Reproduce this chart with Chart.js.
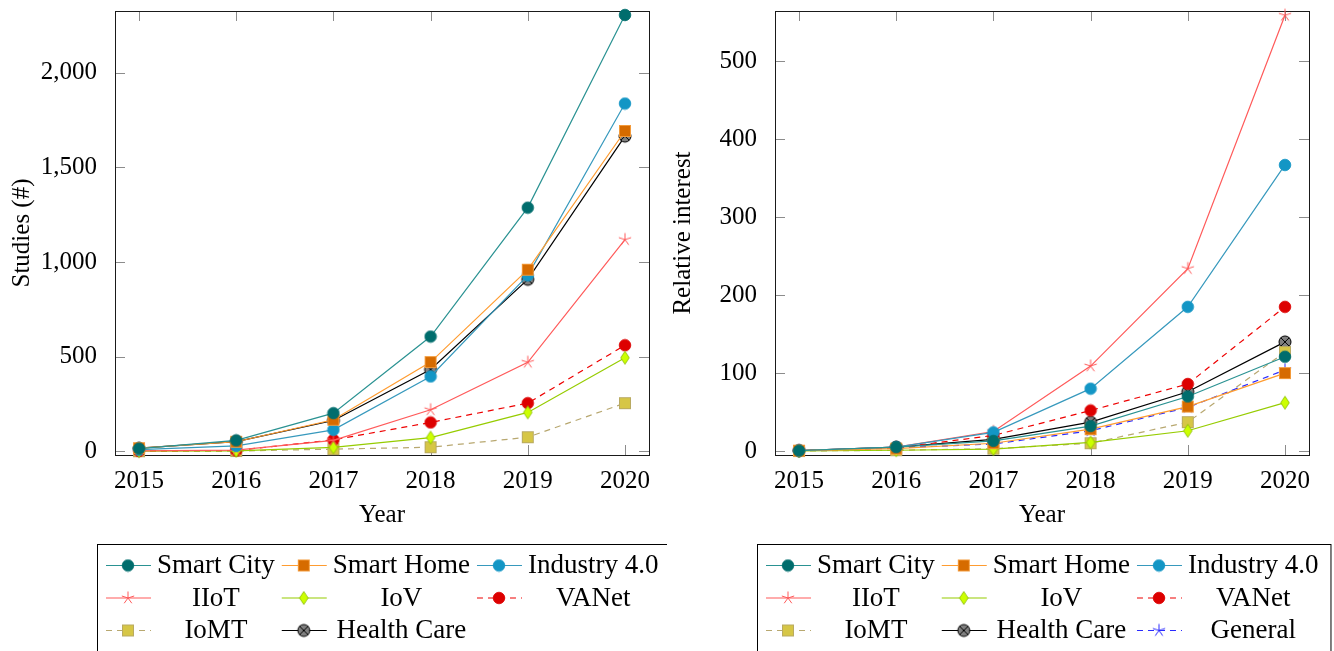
<!DOCTYPE html>
<html>
<head>
<meta charset="utf-8">
<script src="https://cdn.jsdelivr.net/npm/chart.js@4/dist/chart.umd.min.js"></script>
<style>
  body { margin: 0; background: #fff; width: 1334px; height: 651px; overflow: hidden; position: relative; }
  canvas { position: absolute; top: 0; }
  #izq { left: 0; }
  #der { left: 667px; }
</style>
</head>
<body>
<canvas id="izq" width="667" height="651"></canvas>
<canvas id="der" width="667" height="651"></canvas>
<script>
// data
const years = [2015, 2016, 2017, 2018, 2019, 2020];

// left: number of studies
const studiesSmartCity  = [14, 57, 201, 606, 1287, 2305];
const studiesSmartHome  = [16, 50, 166, 471, 959, 1692];
const studiesIndustry40 = [8, 28, 113, 395, 929, 1837];
const studiesIIoT       = [2, 6, 57, 219, 470, 1118];
const studiesIoV        = [0, 2, 20, 72, 205, 494];
const studiesVANet      = [1, 4, 60, 152, 254, 560];
const studiesIoMT       = [0, 1, 11, 21, 74, 254];
const studiesHealthCare = [16, 51, 162, 432, 908, 1665];
const studiesTicks = [0, 500, 1000, 1500, 2000];

// right: relative interest
const interestSmartCity  = [0.5, 5, 13, 32, 70, 121];
const interestSmartHome  = [0.5, 3, 10, 28, 57, 100];
const interestIndustry40 = [0.5, 5, 24, 80, 185, 367];
const interestIIoT       = [0.5, 5, 25, 109, 234, 559];
const interestIoV        = [0, 1, 2.5, 11, 26, 62];
const interestVANet      = [0.5, 4, 20, 52, 86, 185];
const interestIoMT       = [0, 1, 3, 10, 37, 127];
const interestHealthCare = [0.5, 5, 15, 37, 76, 140];
const interestGeneral    = [0.5, 4, 9, 26, 56, 104];
const interestTicks = [0, 100, 200, 300, 400, 500];

const FONT = "'Liberation Serif', 'Times New Roman', serif";
Chart.defaults.font.family = FONT;
Chart.defaults.font.size = 25;
Chart.defaults.color = '#000';

// markers as little canvases
function marca(size, dibujar) {
    const c = document.createElement('canvas');
    c.width = size; c.height = size;
    const g = c.getContext('2d');
    g.translate(size / 2, size / 2);
    dibujar(g);
    return c;
}
function circulo(fill, stroke) {
    return marca(14, g => {
        g.beginPath(); g.arc(0, 0, 5.8, 0, Math.PI * 2);
        g.fillStyle = fill; g.fill();
        g.lineWidth = 0.8; g.strokeStyle = stroke; g.stroke();
    });
}
function cuadrado(fill, stroke) {
    return marca(14, g => {
        g.fillStyle = fill; g.fillRect(-5.5, -5.5, 11, 11);
        g.lineWidth = 1; g.strokeStyle = stroke; g.strokeRect(-5.5, -5.5, 11, 11);
    });
}
function asterisco(color) {
    return marca(16, g => {
        g.strokeStyle = color; g.lineWidth = 1;
        g.beginPath();
        for (let k = 0; k < 5; k++) {
            const a = -Math.PI / 2 + k * 2 * Math.PI / 5;
            g.moveTo(0, 0); g.lineTo(6.5 * Math.cos(a), 6.5 * Math.sin(a));
        }
        g.stroke();
    });
}
function rombo(fill, stroke) {
    return marca(16, g => {
        g.beginPath();
        g.moveTo(0, -6.5); g.lineTo(4.3, 0); g.lineTo(0, 6.5); g.lineTo(-4.3, 0); g.closePath();
        g.fillStyle = fill; g.fill();
        g.lineWidth = 0.8; g.strokeStyle = stroke; g.stroke();
    });
}
function otimes() {
    return marca(16, g => {
        g.beginPath(); g.arc(0, 0, 6, 0, Math.PI * 2);
        g.fillStyle = '#808080'; g.fill();
        g.lineWidth = 1; g.strokeStyle = '#000'; g.stroke();
        const d = 6 * Math.SQRT1_2;
        g.beginPath();
        g.moveTo(-d, -d); g.lineTo(d, d); g.moveTo(d, -d); g.lineTo(-d, d);
        g.stroke();
    });
}

const estilos = {
    'Smart City':   { color: '#2a9292', punto: circulo('#006d6d', '#006d6d') },
    'Smart Home':   { color: '#ff9c30', punto: cuadrado('#d66b00', '#f39a3a') },
    'Industry 4.0': { color: '#3799bd', punto: circulo('#1396c5', '#1396c5') },
    'IIoT':         { color: '#ff5a5a', punto: asterisco('#ff5a5a') },
    'IoV':          { color: '#96cc00', punto: rombo('#ccff00', '#88bb00') },
    'VANet':        { color: '#ee0000', punto: circulo('#dd0000', '#dd0000'), dash: [6, 5] },
    'IoMT':         { color: '#b8a870', punto: cuadrado('#d6c646', '#b9aa62'), dash: [6, 5] },
    'Health Care':  { color: '#000000', punto: otimes() },
    'General':      { color: '#2a2aff', punto: asterisco('#2a2aff'), dash: [6, 5] }
};

function serie(nombre, valores) {
    const e = estilos[nombre];
    return {
        label: nombre,
        data: years.map((y, i) => ({ x: y, y: valores[i] })),
        borderColor: e.color,
        backgroundColor: e.color,
        borderWidth: 1.2,
        borderDash: e.dash || [],
        pointStyle: e.punto,
        pointRadius: 6,
        tension: 0,
        clip: false
    };
}

// inner tick marks on all four sides + frame
const marco = {
    id: 'marco',
    beforeDatasetsDraw(chart) {
        const ctx = chart.ctx, a = chart.chartArea;
        const sx = chart.scales.x, sy = chart.scales.y;
        ctx.save();
        ctx.strokeStyle = '#8c8c8c'; ctx.lineWidth = 1;
        ctx.beginPath();
        sx.ticks.forEach(t => {
            const px = Math.round(sx.getPixelForValue(t.value)) + 0.5;
            ctx.moveTo(px, a.bottom); ctx.lineTo(px, a.bottom - 10);
            ctx.moveTo(px, a.top); ctx.lineTo(px, a.top + 10);
        });
        sy.ticks.forEach(t => {
            const py = Math.round(sy.getPixelForValue(t.value)) + 0.5;
            ctx.moveTo(a.left, py); ctx.lineTo(a.left + 10, py);
            ctx.moveTo(a.right, py); ctx.lineTo(a.right - 10, py);
        });
        ctx.stroke();
        ctx.strokeStyle = '#1a1a1a';
        ctx.strokeRect(Math.round(a.left) + 0.5, Math.round(a.top) + 0.5,
            Math.round(a.right - a.left), Math.round(a.bottom - a.top));
        ctx.restore();
    }
};

// boxed legend, 3 columns, text centred in its column
const leyenda = {
    id: 'leyenda',
    afterDraw(chart) {
        const ctx = chart.ctx, a = chart.chartArea;
        const sets = chart.data.datasets;
        const font = '27px ' + FONT;
        ctx.save();
        ctx.font = font;
        const anchos = [0, 0, 0];
        sets.forEach((ds, i) => {
            anchos[i % 3] = Math.max(anchos[i % 3], ctx.measureText(ds.label).width);
        });
        const bx = a.left - 18, by = 544;
        const cols = [];
        let x = bx + 9;
        for (let c = 0; c < 3; c++) {
            cols.push(x);
            x += 51 + anchos[c] + 7;
        }
        ctx.strokeStyle = '#000'; ctx.lineWidth = 1;
        ctx.strokeRect(bx + 0.5, by + 0.5, x - bx + 5, 200);
        sets.forEach((ds, i) => {
            const c = i % 3, f = Math.floor(i / 3);
            const lx = cols[c], ly = by + 21 + f * 32.5;
            ctx.beginPath();
            ctx.setLineDash(ds.borderDash);
            ctx.strokeStyle = ds.borderColor; ctx.lineWidth = 1.2;
            ctx.moveTo(lx, ly + 0.5); ctx.lineTo(lx + 45, ly + 0.5);
            ctx.stroke();
            ctx.setLineDash([]);
            Chart.helpers.drawPoint(ctx, { pointStyle: ds.pointStyle, radius: 6, rotation: 0, borderWidth: 1 }, lx + 22, ly + 0.5);
            ctx.fillStyle = '#000';
            ctx.font = font;
            ctx.textAlign = 'center';
            ctx.textBaseline = 'middle';
            ctx.fillText(ds.label, lx + 51 + anchos[c] / 2, ly + 1);
        });
        ctx.restore();
    }
};

function crearGrafica(id, datasets, tituloY, ticksY, minY, maxY, anchoY, padDer, padTitulo) {
    return new Chart(document.getElementById(id), {
        type: 'line',
        data: { datasets: datasets },
        options: {
            responsive: false,
            animation: false,
            layout: { padding: { top: 11, right: padDer, bottom: 116, left: 0 } },
            plugins: { legend: { display: false }, tooltip: { enabled: false } },
            scales: {
                x: {
                    type: 'linear',
                    min: 2014.753,
                    max: 2020.247,
                    grid: { display: false },
                    border: { display: false },
                    afterBuildTicks: s => { s.ticks = years.map(v => ({ value: v })); },
                    afterFit: s => { s.height = 80; s.paddingLeft = 0; s.paddingRight = 0; },
                    ticks: { padding: 3, callback: v => String(v) },
                    title: { display: true, text: 'Year', font: { size: 25 }, padding: { top: 0, bottom: 5 } }
                },
                y: {
                    min: minY,
                    max: maxY,
                    grid: { display: false },
                    border: { display: false },
                    afterBuildTicks: s => { s.ticks = ticksY.map(v => ({ value: v })); },
                    afterFit: s => { s.width = anchoY; s.paddingTop = 0; s.paddingBottom = 0; },
                    ticks: { padding: 10, callback: v => v.toLocaleString('en-US') },
                    title: { display: true, text: tituloY, font: { size: 25 }, padding: { top: padTitulo, bottom: 0 } }
                }
            }
        },
        plugins: [marco, leyenda]
    });
}

crearGrafica('izq', [
    serie('Smart City', studiesSmartCity),
    serie('Smart Home', studiesSmartHome),
    serie('Industry 4.0', studiesIndustry40),
    serie('IIoT', studiesIIoT),
    serie('IoV', studiesIoV),
    serie('VANet', studiesVANet),
    serie('IoMT', studiesIoMT),
    serie('Health Care', studiesHealthCare)
], 'Studies (#)', studiesTicks, -20, 2326, 115, 18, 7);

crearGrafica('der', [
    serie('Smart City', interestSmartCity),
    serie('Smart Home', interestSmartHome),
    serie('Industry 4.0', interestIndustry40),
    serie('IIoT', interestIIoT),
    serie('IoV', interestIoV),
    serie('VANet', interestVANet),
    serie('IoMT', interestIoMT),
    serie('Health Care', interestHealthCare),
    serie('General', interestGeneral)
], 'Relative interest', interestTicks, -5.1, 564.5, 108, 25, 1);
</script>
</body>
</html>
